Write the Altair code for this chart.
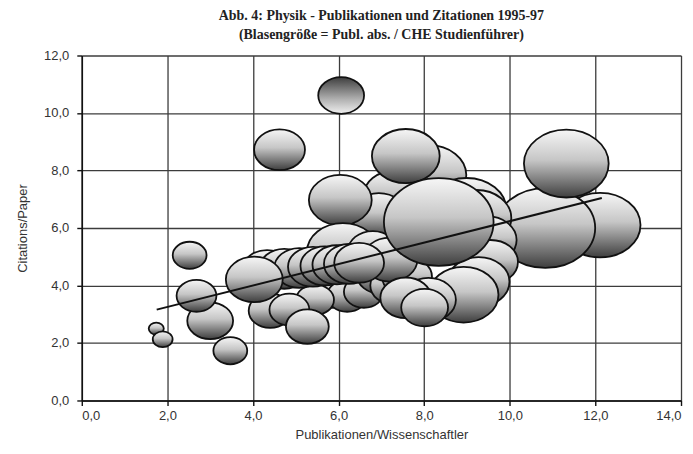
import altair as alt
import pandas as pd

# Bubble data: x = Publikationen/Wissenschaftler, y = Citations/Paper, publ = Publ. abs. (bubble size)
bx = [1.74, 1.89, 2.52, 3.00, 2.68, 3.47, 4.62,
      12.11, 10.83, 11.32,
      8.11, 7.29, 8.99, 9.22, 9.46, 9.55, 9.27, 8.92,
      6.94, 6.04, 7.57, 6.10,
      5.85, 6.20, 6.59, 5.45,
      7.00, 7.30, 7.60, 6.80, 7.20,
      4.33, 4.73, 5.08, 5.40, 5.68, 5.96, 6.24, 6.48,
      4.40, 4.85, 5.27, 4.03,
      8.10, 7.57, 8.01, 8.34]
by = [2.50, 2.13, 5.05, 2.77, 3.64, 1.73, 8.72,
      6.10, 6.00, 8.24,
      7.84, 7.15, 6.63, 6.35, 5.58, 4.82, 4.13, 3.68,
      6.45, 6.97, 8.50, 5.17,
      3.75, 3.64, 3.78, 3.50,
      4.40, 4.00, 4.30, 5.20, 4.90,
      4.54, 4.58, 4.61, 4.65, 4.68, 4.72, 4.75, 4.79,
      3.12, 3.16, 2.57, 4.21,
      3.50, 3.57, 3.23, 6.21]
bpubl = [19, 33, 96, 176, 133, 96, 217,
         547, 833, 602,
         469, 300, 533, 408, 300, 252, 320, 408,
         252, 331, 385, 432,
         120, 133, 133, 120,
         208, 192, 208, 208, 252,
         208, 208, 208, 208, 200, 200, 208, 208,
         154, 133, 154, 271,
         252, 217, 184, 1008]

# Isolated bubble with inverted shading
gx = [6.06]
gy = [10.61]
gpubl = [176]

# Trend line end points
tx = [1.75, 12.15]
ty = [3.16, 7.04]

df = pd.DataFrame({"x": bx, "y": by, "publ": bpubl, "idx": list(range(len(bx)))})
dg = pd.DataFrame({"x": gx, "y": gy, "publ": gpubl})
dt = pd.DataFrame({"x": tx, "y": ty})

ELLIPSE = ("M-1,0 C-1,-0.4418 -0.5523,-0.8 0,-0.8 C0.5523,-0.8 1,-0.4418 1,0 "
           "C1,0.4418 0.5523,0.8 0,0.8 C-0.5523,0.8 -1,0.4418 -1,0 Z")

grad = alt.LinearGradient(
    gradient="linear", x1=0, y1=0, x2=0, y2=1,
    stops=[alt.GradientStop(offset=0, color="#f6f6f6"),
           alt.GradientStop(offset=0.45, color="#c6c6c6"),
           alt.GradientStop(offset=1, color="#3e3e3e")])
grad_inv = alt.LinearGradient(
    gradient="linear", x1=0, y1=0, x2=0, y2=1,
    stops=[alt.GradientStop(offset=0, color="#3e3e3e"),
           alt.GradientStop(offset=0.6, color="#b0b0b0"),
           alt.GradientStop(offset=1, color="#f0f0f0")])

lab = "replace(format(datum.value, '.1f'), '.', ',')"
FONT = "Liberation Sans"

xscale = alt.Scale(domain=[0, 14], nice=False, zero=True)
yscale = alt.Scale(domain=[0, 12], nice=False, zero=True)
sscale = alt.Scale(type="linear", domain=[0, 1200], range=[0, 14400], zero=True)

xaxis = alt.Axis(values=[0, 2, 4, 6, 8, 10, 12, 14], labelExpr=lab,
                 title="Publikationen/Wissenschaftler", grid=True)
yaxis = alt.Axis(values=[0, 2, 4, 6, 8, 10, 12], labelExpr=lab,
                 title="Citations/Paper", grid=True)

bubbles = alt.Chart(df).mark_point(
    shape=ELLIPSE, filled=True, fill=grad, stroke="#111111",
    strokeWidth=1.8, opacity=1, fillOpacity=1, strokeOpacity=1
).encode(
    x=alt.X("x:Q", scale=xscale, axis=xaxis),
    y=alt.Y("y:Q", scale=yscale, axis=yaxis),
    size=alt.Size("publ:Q", scale=sscale, legend=None),
    order=alt.Order("idx:Q"),
)

single = alt.Chart(dg).mark_point(
    shape=ELLIPSE, filled=True, fill=grad_inv, stroke="#111111",
    strokeWidth=1.8, opacity=1, fillOpacity=1, strokeOpacity=1
).encode(
    x=alt.X("x:Q", scale=xscale),
    y=alt.Y("y:Q", scale=yscale),
    size=alt.Size("publ:Q", scale=sscale, legend=None),
)

trend = alt.Chart(dt).mark_line(color="#111111", strokeWidth=2).encode(
    x=alt.X("x:Q", scale=xscale),
    y=alt.Y("y:Q", scale=yscale),
)

chart = alt.layer(bubbles, single, trend).properties(
    width=601, height=346,
    autosize=alt.AutoSizeParams(type="none"),
    padding={"left": 74, "top": 47, "right": 4, "bottom": 40},
    title=alt.TitleParams(
        ["Abb. 4: Physik - Publikationen und Zitationen 1995-97",
         "(Blasengröße = Publ. abs. / CHE Studienführer)"],
        font="Liberation Serif", fontSize=14, fontWeight="bold",
        color="#222222", lineHeight=19, offset=8, anchor="middle"),
).configure_view(
    stroke=None
).configure_axis(
    gridColor="#3c3c3c", gridWidth=1.3, gridOpacity=1,
    domainColor="#111111", domainWidth=1.6,
    tickColor="#111111", tickSize=5, tickWidth=1.4,
    labelFont=FONT, labelFontSize=13, labelColor="#333333",
    titleFont=FONT, titleFontSize=13, titleFontWeight="normal", titleColor="#333333",
).configure_axisX(
    labelPadding=4, titlePadding=6
).configure_axisY(
    labelPadding=8, titlePadding=14
)

chart.save("out.html", embed_options={"renderer": "svg", "actions": False})
